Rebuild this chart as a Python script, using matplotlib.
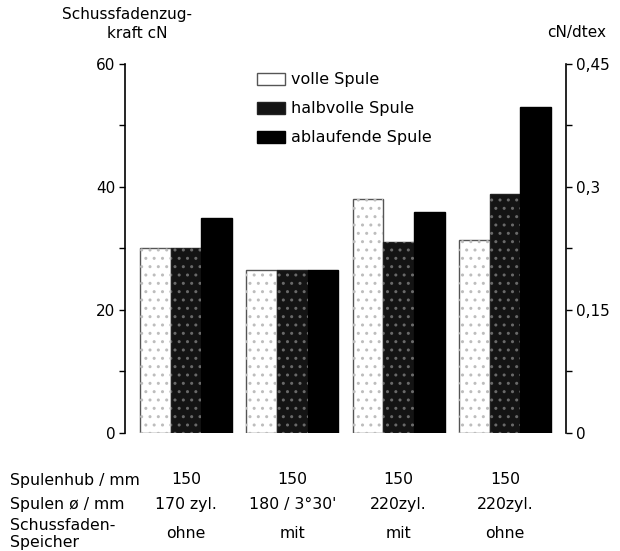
import matplotlib.pyplot as plt
import matplotlib.transforms as mtransforms
from matplotlib.ticker import FixedLocator

plt.rcParams['font.family'] = ['DejaVu Sans']

# Daten
series = ['volle Spule', 'halbvolle Spule', 'ablaufende Spule']
volle = [30, 26.5, 38, 31.3]
halbvolle = [30, 26.5, 31, 38.8]
ablaufende = [35, 26.5, 36, 53]

spulenhub = ['150', '150', '150', '150']
spulen_d = ['170 zyl.', '180 / 3°30\'', '220zyl.', '220zyl.']
speicher = ['ohne', 'mit', 'mit', 'ohne']

left_ticks = [0, 20, 40, 60]
right_ticks = [0, 0.15, 0.3, 0.45]
right_labels = ['0', '0,15', '0,3', '0,45']

fig = plt.figure(figsize=(6.2, 5.51), dpi=100)
ax = fig.add_axes([0.2016, 0.2142, 0.7113, 0.6697])

w = 0.289
x = list(range(len(volle)))
styles = [
    dict(face='white', hatch='..', hcolor='#bdbdbd', edge='#555555'),
    dict(face='#141414', hatch='..', hcolor='#6a6a6a', edge='#222222'),
    dict(face='black', hatch=None, hcolor=None, edge='black'),
]
handles = []
for k, (vals, st) in enumerate(zip([volle, halbvolle, ablaufende], styles)):
    pos = [xi + (k - 1) * w for xi in x]
    b = ax.bar(pos, vals, w, color=st['face'], edgecolor=st['edge'], linewidth=1.0,
               label=series[k], zorder=2)
    if st['hatch']:
        ax.bar(pos, vals, w, color='none', edgecolor=st['hcolor'], hatch=st['hatch'],
               linewidth=0, zorder=3)
    handles.append(b)

ax.set_xlim(-0.574, 3.575)
ax.set_ylim(0, 60)
ax.set_xticks([])
ax.yaxis.set_major_locator(FixedLocator(left_ticks))
ax.yaxis.set_minor_locator(FixedLocator([10, 30, 50]))
ax.tick_params(axis='y', which='both', direction='out', length=4, width=1.0,
               labelsize=11, pad=3)
for s in ['top', 'bottom', 'right']:
    ax.spines[s].set_visible(False)
ax.spines['left'].set_linewidth(1.2)

ax2 = ax.twinx()
ax2.set_ylim(0, 0.45)
ax2.yaxis.set_major_locator(FixedLocator(right_ticks))
ax2.yaxis.set_minor_locator(FixedLocator([0.075, 0.225, 0.375]))
ax2.set_yticklabels(right_labels)
ax2.tick_params(axis='y', which='both', direction='out', length=4, width=1.0,
                labelsize=11, pad=3)
for s in ['top', 'bottom', 'left']:
    ax2.spines[s].set_visible(False)
ax2.spines['right'].set_linewidth(1.2)

# Legende
leg = ax.legend(handles=handles, labels=series, frameon=False, fontsize=11.5,
                loc='upper left', bbox_to_anchor=(0.284, 0.995),
                handlelength=1.75, handleheight=0.8, handletextpad=0.4,
                labelspacing=0.88, borderaxespad=0)

# Achsentitel
fig.text(127 / 620, 1 - 14 / 551, 'Schussfadenzug-', ha='center', va='center', fontsize=11)
fig.text(137 / 620, 1 - 33 / 551, 'kraft cN', ha='center', va='center', fontsize=11)
fig.text(577 / 620, 1 - 33 / 551, 'cN/dtex', ha='center', va='center', fontsize=11)

# Tabelle unter dem Diagramm
trans = mtransforms.blended_transform_factory(ax.transData, fig.transFigure)
rows = [(480, 'Spulenhub / mm', spulenhub),
        (504, 'Spulen ø / mm', spulen_d),
        (533, None, speicher)]
for ypix, label, vals in rows:
    yf = 1 - ypix / 551
    if label:
        fig.text(10 / 620, yf, label, ha='left', va='center', fontsize=11.3)
    for xi, v in zip(x, vals):
        ax.text(xi, yf, v, transform=trans, ha='center', va='center', fontsize=11.3)
fig.text(10 / 620, 1 - 526 / 551, 'Schussfaden-', ha='left', va='center', fontsize=11.3)
fig.text(10 / 620, 1 - 543 / 551, 'Speicher', ha='left', va='center', fontsize=11.3)

plt.savefig('out.png', dpi=100)
